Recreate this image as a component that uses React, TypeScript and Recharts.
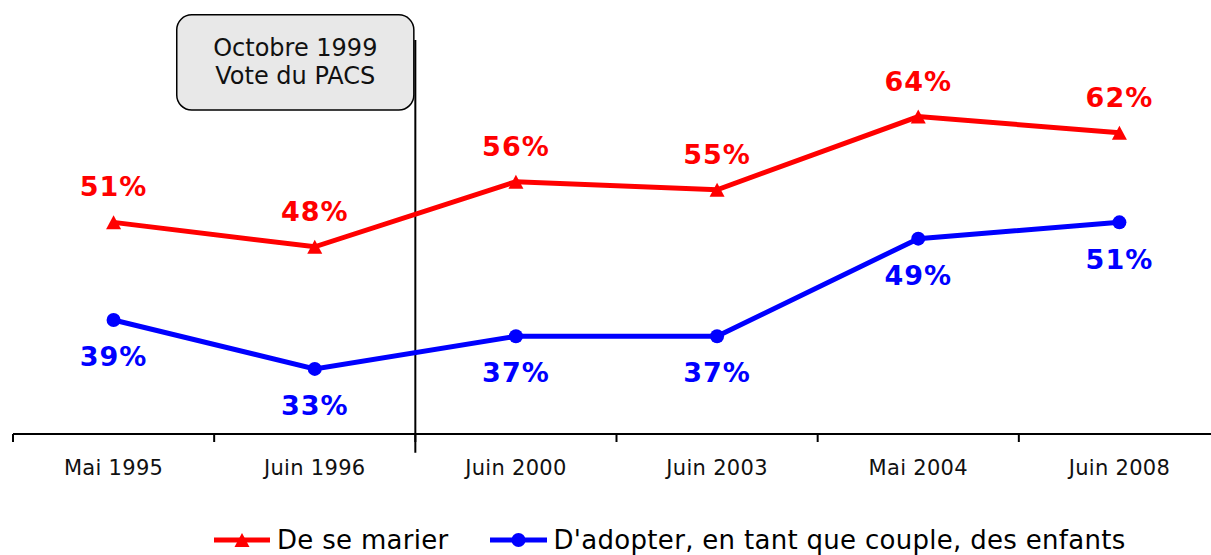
import {
  LabelList,
  Legend,
  Line,
  LineChart,
  ReferenceArea,
  ReferenceLine,
  XAxis,
  YAxis,
} from "recharts";

const CATEGORIES = ["Mai 1995", "Juin 1996", "Juin 2000", "Juin 2003", "Mai 2004", "Juin 2008"];
const MARIER = [51, 48, 56, 55, 64, 62];
const ADOPTER = [39, 33, 37, 37, 49, 51];
const SERIES_NAMES = ["De se marier", "D'adopter, en tant que couple, des enfants"];
const EVENT_LINES = ["Octobre 1999", "Vote du PACS"];
const EVENT_AFTER = "Juin 1996";

const RED = "#ff0000";
const BLUE = "#0000ff";
const FONT = "'DejaVu Sans', Verdana, sans-serif";

const data = CATEGORIES.map((periode, i) => ({
  periode,
  marier: MARIER[i],
  adopter: ADOPTER[i],
}));

function CategoryTick(props: any) {
  const { x, y, payload } = props;
  const half = payload?.offset ?? 0;
  return (
    <g>
      <line x1={x - half} x2={x - half} y1={y} y2={y + 8} stroke="#000" strokeWidth={2} />
      <text
        x={x}
        y={y + 41}
        textAnchor="middle"
        fontSize={21}
        letterSpacing={0.3}
        fill="#111"
        fontFamily={FONT}
      >
        {payload.value}
      </text>
    </g>
  );
}

function TriangleDot(props: any) {
  const { cx, cy, index } = props;
  if (cx == null || cy == null) return <g key={`t-${index}`} />;
  return (
    <polygon
      key={`t-${index}`}
      points={`${cx},${cy - 7} ${cx - 7.5},${cy + 7} ${cx + 7.5},${cy + 7}`}
      fill={RED}
    />
  );
}

function CircleDot(props: any) {
  const { cx, cy, index } = props;
  if (cx == null || cy == null) return <g key={`c-${index}`} />;
  return <circle key={`c-${index}`} cx={cx} cy={cy} r={7} fill={BLUE} />;
}

// area spans the first two bands; the callout sits in its right part
function EventBox(props: any) {
  const { x, y, width, height } = props;
  const left = x + width * 0.407;
  const right = x + width - 1.5;
  const cx = (left + right) / 2;
  const cy = y + height / 2;
  return (
    <g>
      <rect x={left} y={y} width={right - left} height={height} rx={15} ry={15} fill="#e8e8e8" stroke="#000" strokeWidth={1.5} />
      <text x={cx} y={cy - 6} textAnchor="middle" fontSize={24} fill="#111" fontFamily={FONT}>
        {EVENT_LINES[0]}
      </text>
      <text x={cx} y={cy + 22} textAnchor="middle" fontSize={24} fill="#111" fontFamily={FONT}>
        {EVENT_LINES[1]}
      </text>
    </g>
  );
}

function LegendContent() {
  return (
    <div
      style={{
        display: "flex",
        alignItems: "center",
        height: 30,
        fontSize: 26,
        letterSpacing: 0.3,
        color: "#000",
        whiteSpace: "nowrap",
        fontFamily: FONT,
      }}
    >
      <svg width={56} height={30}>
        <line x1={0} x2={56} y1={15} y2={15} stroke={RED} strokeWidth={5} />
        <polygon points="28,8 20.5,22 35.5,22" fill={RED} />
      </svg>
      <span style={{ marginLeft: 7 }}>{SERIES_NAMES[0]}</span>
      <svg width={57} height={30} style={{ marginLeft: 41 }}>
        <line x1={0} x2={57} y1={15} y2={15} stroke={BLUE} strokeWidth={5} />
        <circle cx={28.5} cy={15} r={7} fill={BLUE} />
      </svg>
      <span style={{ marginLeft: 7 }}>{SERIES_NAMES[1]}</span>
    </div>
  );
}

export default function App() {
  return (
    <div
      style={{
        position: "absolute",
        left: 0,
        top: 0,
        width: 1211,
        height: 555,
        overflow: "hidden",
        background: "#fff",
        fontFamily: FONT,
      }}
    >
      <LineChart width={1230} height={555} data={data} margin={{ top: 27, right: 10, bottom: 61, left: 13 }}>
        <XAxis
          dataKey="periode"
          scale="band"
          height={60}
          tickSize={0}
          tickMargin={0}
          tickLine={false}
          axisLine={{ stroke: "#000", strokeWidth: 2 }}
          tick={<CategoryTick />}
          interval={0}
        />
        <YAxis domain={[25, 75]} hide allowDataOverflow />
        <ReferenceArea
          x1={CATEGORIES[0]}
          x2={EVENT_AFTER}
          y1={64.8}
          y2={76.5}
          ifOverflow="visible"
          shape={<EventBox />}
        />
        <ReferenceLine
          segment={[
            { x: EVENT_AFTER, y: 73.4 },
            { x: EVENT_AFTER, y: 22.7 },
          ]}
          position="end"
          stroke="#000"
          strokeWidth={2}
          ifOverflow="visible"
        />
        <Line
          dataKey="marier"
          name={SERIES_NAMES[0]}
          stroke={RED}
          strokeWidth={5}
          dot={(p: any) => <TriangleDot key={`t-${p.index}`} {...p} />}
          activeDot={false}
          isAnimationActive={false}
        >
          <LabelList
            dataKey="marier"
            position="top"
            offset={26}
            fill={RED}
            fontSize={27}
            letterSpacing={1}
            fontWeight="bold"
            fontFamily={FONT}
            formatter={(v: any) => `${v}%`}
          />
        </Line>
        <Line
          dataKey="adopter"
          name={SERIES_NAMES[1]}
          stroke={BLUE}
          strokeWidth={5}
          dot={(p: any) => <CircleDot key={`c-${p.index}`} {...p} />}
          activeDot={false}
          isAnimationActive={false}
        >
          <LabelList
            dataKey="adopter"
            position="bottom"
            offset={27}
            fill={BLUE}
            fontSize={27}
            letterSpacing={1}
            fontWeight="bold"
            fontFamily={FONT}
            formatter={(v: any) => `${v}%`}
          />
        </Line>
        <Legend
          verticalAlign="middle"
          align="center"
          layout="horizontal"
          wrapperStyle={{ top: 525, left: 214, width: 1000 }}
          content={<LegendContent />}
        />
      </LineChart>
    </div>
  );
}
